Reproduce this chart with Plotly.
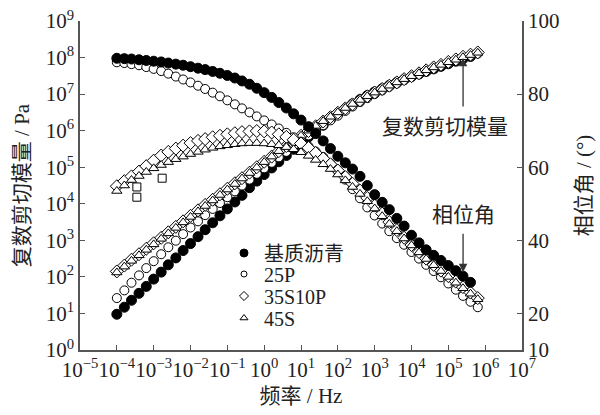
import plotly.graph_objects as go

# ---------------- data ----------------
freq = [1.0e-4, 1.6e-4, 2.5e-4, 4.0e-4, 6.3e-4,
        1.0e-3, 1.6e-3, 2.5e-3, 4.0e-3, 6.3e-3,
        1.0e-2, 1.6e-2, 2.5e-2, 4.0e-2, 6.3e-2,
        1.0e-1, 1.6e-1, 2.5e-1, 4.0e-1, 6.3e-1,
        1.0e0, 1.6e0, 2.5e0, 4.0e0, 6.3e0,
        1.0e1, 1.6e1, 2.5e1, 4.0e1, 6.3e1,
        1.0e2, 1.6e2, 2.5e2, 4.0e2, 6.3e2,
        1.0e3, 1.6e3, 2.5e3, 4.0e3, 6.3e3,
        1.0e4, 1.6e4, 2.5e4, 4.0e4, 6.3e4,
        1.0e5, 1.6e5, 2.5e5, 4.0e5, 6.3e5]
freq_base = freq[:49]

# complex shear modulus, Pa
g_base = [9.5e0, 1.48e1, 2.29e1, 3.55e1, 5.5e1, 8.7e1, 1.35e2, 2.14e2, 3.31e2, 5.25e2,
          8.13e2, 1.26e3, 1.95e3, 3.02e3, 4.68e3, 7.24e3, 1.12e4, 1.70e4, 2.75e4, 4.17e4,
          6.31e4, 9.55e4, 1.41e5, 2.09e5, 3.09e5, 4.57e5, 6.76e5, 9.77e5, 1.41e6, 2.04e6,
          2.88e6, 3.98e6, 5.37e6, 7.08e6, 9.12e6, 1.15e7, 1.41e7, 1.74e7, 2.09e7, 2.51e7,
          3.02e7, 3.55e7, 4.17e7, 4.90e7, 5.75e7, 6.76e7, 7.94e7, 9.33e7, 1.07e8]
g_25p = [2.63e1, 4.27e1, 6.92e1, 1.10e2, 1.74e2, 2.69e2, 4.17e2, 6.46e2, 9.77e2, 1.48e3,
         2.24e3, 3.31e3, 4.90e3, 7.24e3, 1.05e4, 1.51e4, 2.19e4, 3.16e4, 4.57e4, 6.61e4,
         9.33e4, 1.32e5, 1.86e5, 2.63e5, 3.72e5, 5.25e5, 7.41e5, 1.02e6, 1.41e6, 1.91e6,
         2.57e6, 3.47e6, 4.57e6, 6.03e6, 7.76e6, 1.00e7, 1.26e7, 1.58e7, 1.95e7, 2.40e7,
         2.95e7, 3.55e7, 4.27e7, 5.13e7, 6.03e7, 7.08e7, 8.32e7, 9.77e7, 1.12e8, 1.29e8]
g_35s10p = [1.41e2, 2.04e2, 2.95e2, 4.17e2, 5.89e2, 8.32e2, 1.17e3, 1.66e3, 2.34e3, 3.31e3,
            4.68e3, 6.61e3, 9.33e3, 1.29e4, 1.82e4, 2.57e4, 3.63e4, 5.01e4, 7.08e4, 1.00e5,
            1.41e5, 1.95e5, 2.75e5, 3.80e5, 5.25e5, 7.24e5, 9.77e5, 1.32e6, 1.78e6, 2.34e6,
            3.09e6, 4.07e6, 5.25e6, 6.76e6, 8.71e6, 1.10e7, 1.38e7, 1.70e7, 2.09e7, 2.57e7,
            3.09e7, 3.72e7, 4.47e7, 5.37e7, 6.31e7, 7.59e7, 8.91e7, 1.05e8, 1.20e8, 1.38e8]
g_45s = [1.32e2, 1.91e2, 2.75e2, 3.89e2, 5.50e2, 7.76e2, 1.10e3, 1.55e3, 2.19e3, 3.09e3,
         4.37e3, 6.17e3, 8.71e3, 1.23e4, 1.74e4, 2.45e4, 3.47e4, 4.90e4, 6.92e4, 9.77e4,
         1.38e5, 1.95e5, 2.75e5, 3.80e5, 5.25e5, 7.24e5, 1.00e6, 1.35e6, 1.82e6, 2.40e6,
         3.16e6, 4.17e6, 5.37e6, 6.92e6, 8.71e6, 1.10e7, 1.38e7, 1.70e7, 2.09e7, 2.57e7,
         3.09e7, 3.72e7, 4.47e7, 5.37e7, 6.31e7, 7.41e7, 8.71e7, 1.02e8, 1.17e8, 1.35e8]

# phase angle, degrees
p_base = [89.8, 89.7, 89.6, 89.4, 89.2, 89.0, 88.8, 88.5, 88.2, 87.9,
          87.5, 87.1, 86.7, 86.2, 85.7, 85.1, 84.4, 83.6, 82.7, 81.6,
          80.4, 79.1, 77.7, 76.2, 74.6, 72.9, 71.1, 69.2, 67.2, 65.1,
          63.0, 61.2, 59.5, 57.5, 55.0, 52.5, 50.4, 48.4, 46.0, 43.9,
          41.4, 39.3, 37.4, 35.9, 34.5, 33.1, 31.7, 30.2, 28.5]
p_25p = [88.7, 88.5, 88.2, 87.9, 87.4, 86.9, 86.3, 85.6, 84.8, 84.0,
         83.2, 82.3, 81.4, 80.4, 79.4, 78.3, 77.2, 76.1, 75.0, 73.9,
         72.8, 71.7, 70.6, 69.4, 68.2, 67.0, 65.7, 64.3, 62.8, 61.0,
         59.0, 56.6, 54.0, 51.5, 49.0, 46.8, 44.6, 42.5, 40.6, 38.8,
         36.8, 35.0, 33.3, 31.6, 29.9, 28.2, 26.5, 24.8, 23.2, 21.7]
p_35s10p = [54.8, 56.2, 57.5, 58.8, 60.3, 61.8, 63.2, 64.2, 65.1, 65.9,
            66.6, 67.2, 67.7, 68.2, 68.6, 69.0, 69.3, 69.6, 69.8, 69.9,
            69.8, 69.5, 69.0, 68.3, 67.5, 66.5, 65.3, 63.9, 62.4, 60.8,
            59.1, 57.3, 55.5, 53.6, 51.6, 49.5, 47.3, 45.0, 42.8, 40.7,
            38.7, 36.8, 35.0, 33.3, 31.7, 30.2, 28.7, 27.2, 25.7, 24.2]
p_45s = [53.5, 55.0, 56.5, 57.6, 58.7, 59.7, 60.6, 61.4, 62.2, 62.9,
         63.6, 64.2, 64.8, 65.3, 65.7, 66.0, 66.3, 66.5, 66.6, 66.6,
         66.5, 66.3, 66.0, 65.5, 64.9, 64.1, 63.1, 62.0, 60.8, 59.5,
         58.0, 56.4, 54.6, 52.7, 50.7, 48.7, 46.6, 44.5, 42.5, 40.5,
         38.6, 36.7, 34.9, 33.2, 31.6, 30.0, 28.4, 26.9, 25.4, 23.9]
# a few square-marked low-frequency phase points
freq_sq = [3.5e-4, 3.5e-4, 1.7e-3]
p_sq = [54.6, 51.8, 57.0]

names = ["基质沥青", "25P", "35S10P", "45S"]
x_exp = [-5, -4, -3, -2, -1, 0, 1, 2, 3, 4, 5, 6, 7]
y_exp = [0, 1, 2, 3, 4, 5, 6, 7, 8, 9]
phase_ticks = [10, 20, 40, 60, 80, 100]

# ---------------- figure ----------------
SERIF = "Liberation Serif, Noto Sans CJK SC, serif"
BLK = "black"
AXC = "#555555"
TXT = "#222222"
L, R, T, B = 80, 78, 21, 65
PH = 415 - T - B  # plot height in px

def sup(e):
    s = str(e).replace("-", "\u2212")
    return "10<sup>" + s + "</sup>"

def mk(symbol, fill, size):
    return dict(symbol=symbol, color=fill, size=size, line=dict(color=BLK, width=1))

fig = go.Figure()

# base modulus first (underneath)
fig.add_trace(go.Scatter(x=freq_base, y=g_base, mode="markers", marker=mk("circle", BLK, 10),
                         name=names[0], showlegend=False, yaxis="y"))
fig.add_trace(go.Scatter(x=freq, y=g_25p, mode="markers", marker=mk("circle", "white", 9),
                         name=names[1], showlegend=False, yaxis="y"))
fig.add_trace(go.Scatter(x=freq, y=g_35s10p, mode="markers", marker=mk("diamond", "white", 10),
                         name=names[2], showlegend=False, yaxis="y"))
fig.add_trace(go.Scatter(x=freq, y=g_45s, mode="markers", marker=mk("triangle-up", "white", 9),
                         name=names[3], showlegend=False, yaxis="y"))
# phase angles
fig.add_trace(go.Scatter(x=freq, y=p_25p, mode="markers", marker=mk("circle", "white", 9),
                         name=names[1], showlegend=False, yaxis="y2"))
fig.add_trace(go.Scatter(x=freq, y=p_35s10p, mode="markers", marker=mk("diamond", "white", 10),
                         name=names[2], showlegend=False, yaxis="y2"))
fig.add_trace(go.Scatter(x=freq_sq, y=p_sq, mode="markers", marker=mk("square", "white", 8),
                         name=names[2], showlegend=False, yaxis="y2"))
fig.add_trace(go.Scatter(x=freq, y=p_45s, mode="markers", marker=mk("triangle-up", "white", 9),
                         name=names[3], showlegend=False, yaxis="y2"))
fig.add_trace(go.Scatter(x=freq_base, y=p_base, mode="markers", marker=mk("circle", BLK, 10),
                         name=names[0], showlegend=False, yaxis="y2"))

# legend entries, one small legend per row so the row spacing matches
legend_rows_px = [253, 274, 296, 318]
legend_ids = ["legend", "legend2", "legend3", "legend4"]
for nm, sym, fill, sz, lid in [(names[0], "circle", BLK, 8, legend_ids[0]),
                               (names[1], "circle", "white", 6, legend_ids[1]),
                               (names[2], "diamond", "white", 7, legend_ids[2]),
                               (names[3], "triangle-up", "white", 7, legend_ids[3])]:
    fig.add_trace(go.Scatter(x=[None], y=[None], mode="markers", marker=mk(sym, fill, sz),
                             name=nm, showlegend=True, legend=lid))

legend_layout = {}
for lid, py in zip(legend_ids, legend_rows_px):
    legend_layout[lid] = dict(x=(224 - L) / 442, y=(415 - B - py) / PH, xanchor="left", yanchor="middle",
                              font=dict(family=SERIF, size=20, color=TXT),
                              bgcolor="rgba(0,0,0,0)", itemwidth=30, borderwidth=0)

axis_common = dict(showgrid=False, zeroline=False, showline=True, linecolor=AXC, linewidth=1.5,
                   ticks="inside", ticklen=5, tickwidth=1.2, tickcolor=AXC, automargin=False,
                   tickfont=dict(family=SERIF, size=21, color=TXT), tickangle=0)
title_font = dict(family=SERIF, size=21, color=TXT)

fig.update_layout(
    width=600, height=415,
    margin=dict(l=L, r=R, t=T, b=B),
    paper_bgcolor="white", plot_bgcolor="white",
    showlegend=True,
    xaxis=dict(type="log", range=[-5, 7], tickvals=[10.0 ** e for e in x_exp],
               ticktext=[sup(e) for e in x_exp],
               title=dict(text="频率 / Hz", font=title_font, standoff=7),
               **axis_common),
    yaxis=dict(type="log", range=[0, 9], tickvals=[10.0 ** e for e in y_exp],
               ticktext=[sup(e) for e in y_exp],
               title=dict(text="复数剪切模量 / Pa", font=title_font, standoff=10),
               **axis_common),
    yaxis2=dict(overlaying="y", side="right", range=[10, 100], tickvals=phase_ticks,
                title=dict(text="相位角 / (°)", font=title_font, standoff=18),
                **axis_common),
    **legend_layout,
)

# annotations: labels and arrows
fig.add_annotation(x=5.4, y=7.99, xref="x", yref="y", text="", showarrow=True,
                   ax=0, ay=50, arrowhead=2, arrowsize=1.3, arrowwidth=1.3, arrowcolor="#333")
fig.add_annotation(x=(445 - L) / 442, y=(415 - B - 127) / PH, xref="paper", yref="paper",
                   xanchor="center", yanchor="middle",
                   text="复数剪切模量", showarrow=False, font=dict(family=SERIF, size=21, color=TXT))
fig.add_annotation(x=5.4, y=31.3, xref="x", yref="y2", text="", showarrow=True,
                   ax=0, ay=-40, arrowhead=2, arrowsize=1.3, arrowwidth=1.3, arrowcolor="#333")
fig.add_annotation(x=(463 - L) / 442, y=(415 - B - 215) / PH, xref="paper", yref="paper",
                   xanchor="center", yanchor="middle",
                   text="相位角", showarrow=False, font=dict(family=SERIF, size=21, color=TXT))

fig.write_html("out.html", config={"displayModeBar": False},
               post_script="document.body.style.margin='0px';")
